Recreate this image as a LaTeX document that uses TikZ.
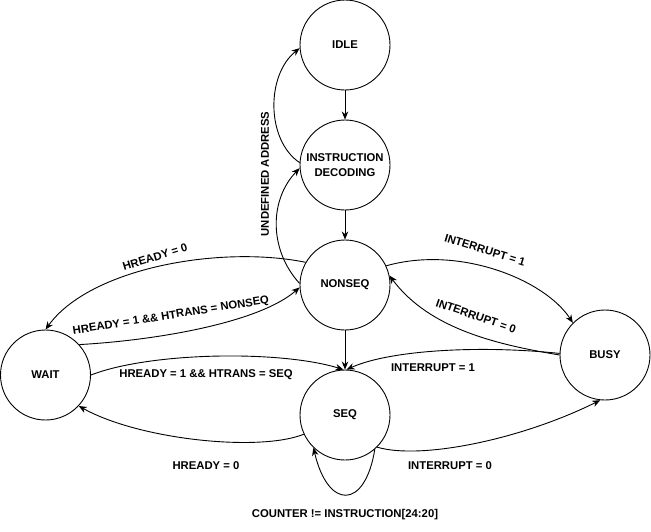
\documentclass[tikz,border=0pt]{standalone}
\usepackage{fontspec}
\setmainfont{Liberation Sans}
\usetikzlibrary{arrows.meta}
\begin{document}
\begin{tikzpicture}[x=1pt,y=-1pt,
  state/.style={circle,draw,line width=0.9pt,minimum size=90pt,inner sep=0pt,
    font=\fontsize{11.3}{15}\selectfont\bfseries,align=center},
  lbl/.style={font=\fontsize{11.3}{13}\selectfont\bfseries,inner sep=0pt},
  edge/.style={-{Stealth[length=8pt,width=6.5pt,inset=2.5pt]},line width=0.9pt}]
\useasboundingbox (0,0) rectangle (651,531);
\node[state] (idle) at (345,45) {IDLE};
\node[state] (dec) at (345,165) {INSTRUCTION\\DECODING};
\node[state] (nonseq) at (345,285) {NONSEQ};
\node[state] (seq) at (345,415) {SEQ};
\node[state] (wait) at (45.5,375) {WAIT};
\node[state] (busy) at (605,355) {BUSY};

\draw[edge] (idle) -- (dec);
\draw[edge] (dec) -- (nonseq);
\draw[edge] (nonseq) -- (seq);
\draw[edge] (dec.177) .. controls (266,140) and (266,75) .. (idle.184);
\draw[edge] (nonseq.178) .. controls (269,250) and (269,200) .. (dec.184);
\draw[edge] (nonseq.150) .. controls (220,245) and (90,268) .. (wait.90);
\draw[edge] (wait.42) .. controls (160,340) and (260,322) .. (nonseq.183);
\draw[edge] (wait.0) .. controls (150,352) and (280,350) .. (seq.92);
\draw[edge] (seq.205) .. controls (260,452) and (140,440) .. (wait.317);
\draw[edge] (seq.311) .. controls (365,510) and (328,510) .. (seq.226);
\draw[edge] (seq.315) .. controls (420,460) and (520,440) .. (busy.264);
\draw[edge] (nonseq.25) .. controls (460,245) and (545,280) .. (busy.135);
\draw[edge] (busy.180) .. controls (500,345) and (430,330) .. (nonseq.12);
\draw[edge] (busy.178) .. controls (480,345) and (390,350) .. (seq.88);

\node[lbl,rotate=90] (l1) at (265,174) {UNDEFINED ADDRESS};
\node[lbl,rotate=17] (l2) at (155,257) {HREADY = 0};
\node[lbl,rotate=9] (l3) at (171,316) {HREADY = 1 \&\& HTRANS = NONSEQ};
\node[lbl] (l4) at (206,375) {HREADY = 1 \&\& HTRANS = SEQ};
\node[lbl] (l5) at (206,466) {HREADY = 0};
\node[lbl] (l6) at (345,515) {COUNTER != INSTRUCTION[24:20]};
\node[lbl] (l7) at (450,466) {INTERRUPT = 0};
\node[lbl] (l8) at (433,368) {INTERRUPT = 1};
\node[lbl,rotate=-17] (l9) at (485,250) {INTERRUPT = 1};
\node[lbl,rotate=-19] (l10) at (476,316) {INTERRUPT = 0};
\end{tikzpicture}
\end{document}
